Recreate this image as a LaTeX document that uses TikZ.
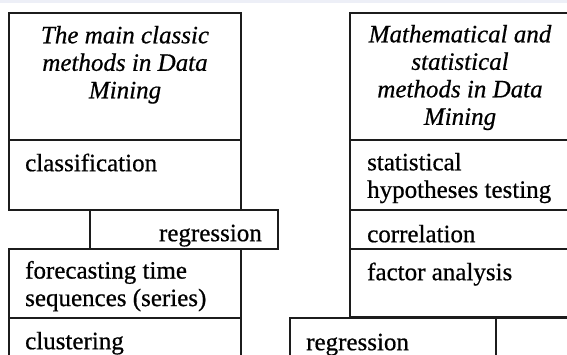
\documentclass[tikz,border=0pt]{standalone}
\usepackage{fontspec}
\setmainfont{Liberation Serif}[FakeBold=0.6]
\usepackage{xcolor}
\usetikzlibrary{positioning}
\definecolor{rule}{HTML}{1C1C1C}
\definecolor{topband}{HTML}{EDEFF7}
\newcommand{\boxfont}{\fontsize{25}{27.5}\selectfont}

\begin{document}
\begin{tikzpicture}[
  x=1pt,y=-1pt,
  every node/.style={font=\boxfont,text=black},
  cell/.style={draw=rule,line width=1.8pt,inner sep=0pt,anchor=north west},
  txt/.style={inner sep=0pt,align=left,anchor=north west,yshift=19.25pt,
              execute at begin node=\strut},
  head/.style={txt,align=center,anchor=north,font=\boxfont\itshape}
]
\useasboundingbox (0,0) rectangle (567,354);
\clip (0,0) rectangle (567,354);
\fill[topband] (0,0) rectangle (567,3);

% Left column -- classic methods
\node[cell,minimum width=232pt,minimum height=127pt] (headL) at (8,12) {};
\node[cell,minimum width=232pt,minimum height=70pt] (cls) at (8,139) {};
\node[cell,minimum width=188pt,minimum height=39pt] (regL) at (89,209) {};
\node[cell,minimum width=232pt,minimum height=69pt] (fts) at (8,248) {};
\node[cell,minimum width=232pt,minimum height=60pt] (clu) at (8,317) {};

\node[head] (headLtxt) at (125,45) {The main classic\\methods in Data\\Mining};
\node[txt] (clstxt) at (25,171) {classification};
\node[txt,anchor=north east] (regLtxt) at (262,241) {regression};
\node[txt] (ftstxt) at (25,280) {forecasting time\\sequences (series)};
\node[txt] (clutxt) at (25,349) {clustering};

% Right column -- mathematical and statistical methods
\node[cell,minimum width=224pt,minimum height=127pt] (headR) at (349,12) {};
\node[cell,minimum width=224pt,minimum height=70pt] (stat) at (349,139) {};
\node[cell,minimum width=224pt,minimum height=39pt] (corr) at (349,209) {};
\node[cell,minimum width=224pt,minimum height=68pt] (fac) at (349,248) {};
\node[cell,minimum width=206pt,minimum height=60pt] (regR) at (289,317) {};
\node[cell,minimum width=80pt,minimum height=60pt] (rest) at (495,317) {};

\node[head] (headRtxt) at (460,44) {Mathematical and\\statistical\\methods in Data\\Mining};
\node[txt] (stattxt) at (367,172) {statistical\\hypotheses testing};
\node[txt] (corrtxt) at (367,242) {correlation};
\node[txt] (factxt) at (367,280) {factor analysis};
\node[txt] (regRtxt) at (306,350) {regression};

\end{tikzpicture}
\end{document}
